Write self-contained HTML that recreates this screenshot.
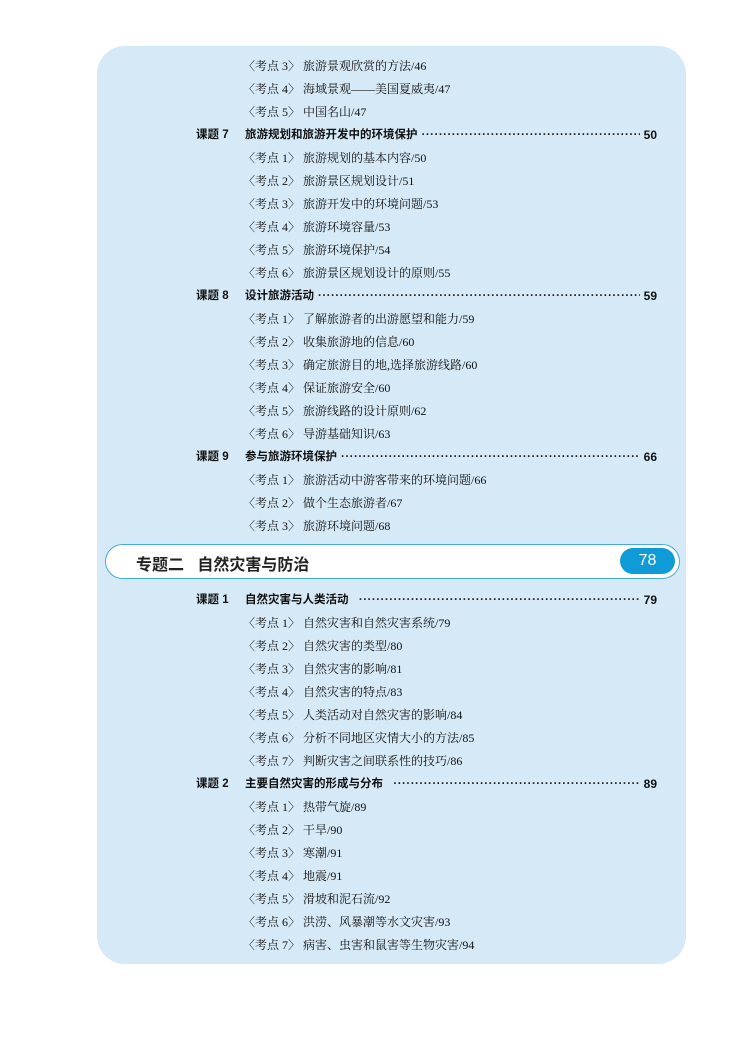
<!DOCTYPE html>
<html><head><meta charset="utf-8"><style>
*{margin:0;padding:0;box-sizing:border-box}
body{width:750px;height:1055px;background:#fff;position:relative;overflow:hidden;font-family:"Liberation Serif","Noto Serif CJK SC",serif;color:#111}
.panel{position:absolute;left:97px;top:46px;width:589px;height:918px;background:#d5e9f6;border-radius:28px}
.k{position:absolute;left:243px;font-size:12px;line-height:16px;white-space:nowrap}
.t{position:absolute;left:196px;width:461px;font-family:"Liberation Sans","Noto Sans CJK SC",sans-serif;font-weight:bold;font-size:11.5px;line-height:16px;display:flex;white-space:nowrap}
.t .n{width:49px}
.t .d{flex:1;overflow:hidden;margin:0 4px;letter-spacing:0.5px;font-weight:bold;color:#222}
.t .d::before{content:"································································································································································"}
.t .p{font-size:12px}
.banner{position:absolute;left:105px;top:544px;width:575px;height:35px;background:#fff;border:1.5px solid #4aa9dc;border-radius:18px}
.banner .a{position:absolute;left:30px;top:6px;font-family:"Liberation Sans","Noto Sans CJK SC",sans-serif;font-weight:bold;font-size:16px;color:#222}
.banner .b{position:absolute;left:514px;top:3px;width:55px;height:26px;background:#0e9bd8;border-radius:13px;color:#fff;font-family:"Liberation Sans",sans-serif;font-size:16px;text-align:center;line-height:26px}
</style></head><body>
<div class="panel"></div>
<div class="k" style="top:58px">〈考点 3〉 旅游景观欣赏的方法/46</div>
<div class="k" style="top:81px">〈考点 4〉 海域景观——美国夏威夷/47</div>
<div class="k" style="top:104px">〈考点 5〉 中国名山/47</div>
<div class="t" style="top:127px"><span class="n">课题 7</span><span>旅游规划和旅游开发中的环境保护</span><span class="d"></span><span class="p">50</span></div>
<div class="k" style="top:150px">〈考点 1〉 旅游规划的基本内容/50</div>
<div class="k" style="top:173px">〈考点 2〉 旅游景区规划设计/51</div>
<div class="k" style="top:196px">〈考点 3〉 旅游开发中的环境问题/53</div>
<div class="k" style="top:219px">〈考点 4〉 旅游环境容量/53</div>
<div class="k" style="top:242px">〈考点 5〉 旅游环境保护/54</div>
<div class="k" style="top:265px">〈考点 6〉 旅游景区规划设计的原则/55</div>
<div class="t" style="top:288px"><span class="n">课题 8</span><span>设计旅游活动</span><span class="d"></span><span class="p">59</span></div>
<div class="k" style="top:311px">〈考点 1〉 了解旅游者的出游愿望和能力/59</div>
<div class="k" style="top:334px">〈考点 2〉 收集旅游地的信息/60</div>
<div class="k" style="top:357px">〈考点 3〉 确定旅游目的地,选择旅游线路/60</div>
<div class="k" style="top:380px">〈考点 4〉 保证旅游安全/60</div>
<div class="k" style="top:403px">〈考点 5〉 旅游线路的设计原则/62</div>
<div class="k" style="top:426px">〈考点 6〉 导游基础知识/63</div>
<div class="t" style="top:449px"><span class="n">课题 9</span><span>参与旅游环境保护</span><span class="d"></span><span class="p">66</span></div>
<div class="k" style="top:472px">〈考点 1〉 旅游活动中游客带来的环境问题/66</div>
<div class="k" style="top:495px">〈考点 2〉 做个生态旅游者/67</div>
<div class="k" style="top:518px">〈考点 3〉 旅游环境问题/68</div>
<div class="banner"><span class="a">专题二&nbsp;&nbsp;&nbsp;自然灾害与防治</span><span class="b">78</span></div>
<div class="t" style="top:592px"><span class="n">课题 1</span><span>自然灾害与人类活动&nbsp;&nbsp;</span><span class="d"></span><span class="p">79</span></div>
<div class="k" style="top:615px">〈考点 1〉 自然灾害和自然灾害系统/79</div>
<div class="k" style="top:638px">〈考点 2〉 自然灾害的类型/80</div>
<div class="k" style="top:661px">〈考点 3〉 自然灾害的影响/81</div>
<div class="k" style="top:684px">〈考点 4〉 自然灾害的特点/83</div>
<div class="k" style="top:707px">〈考点 5〉 人类活动对自然灾害的影响/84</div>
<div class="k" style="top:730px">〈考点 6〉 分析不同地区灾情大小的方法/85</div>
<div class="k" style="top:753px">〈考点 7〉 判断灾害之间联系性的技巧/86</div>
<div class="t" style="top:776px"><span class="n">课题 2</span><span>主要自然灾害的形成与分布&nbsp;&nbsp;</span><span class="d"></span><span class="p">89</span></div>
<div class="k" style="top:799px">〈考点 1〉 热带气旋/89</div>
<div class="k" style="top:822px">〈考点 2〉 干旱/90</div>
<div class="k" style="top:845px">〈考点 3〉 寒潮/91</div>
<div class="k" style="top:868px">〈考点 4〉 地震/91</div>
<div class="k" style="top:891px">〈考点 5〉 滑坡和泥石流/92</div>
<div class="k" style="top:914px">〈考点 6〉 洪涝、风暴潮等水文灾害/93</div>
<div class="k" style="top:937px">〈考点 7〉 病害、虫害和鼠害等生物灾害/94</div>
</body></html>
